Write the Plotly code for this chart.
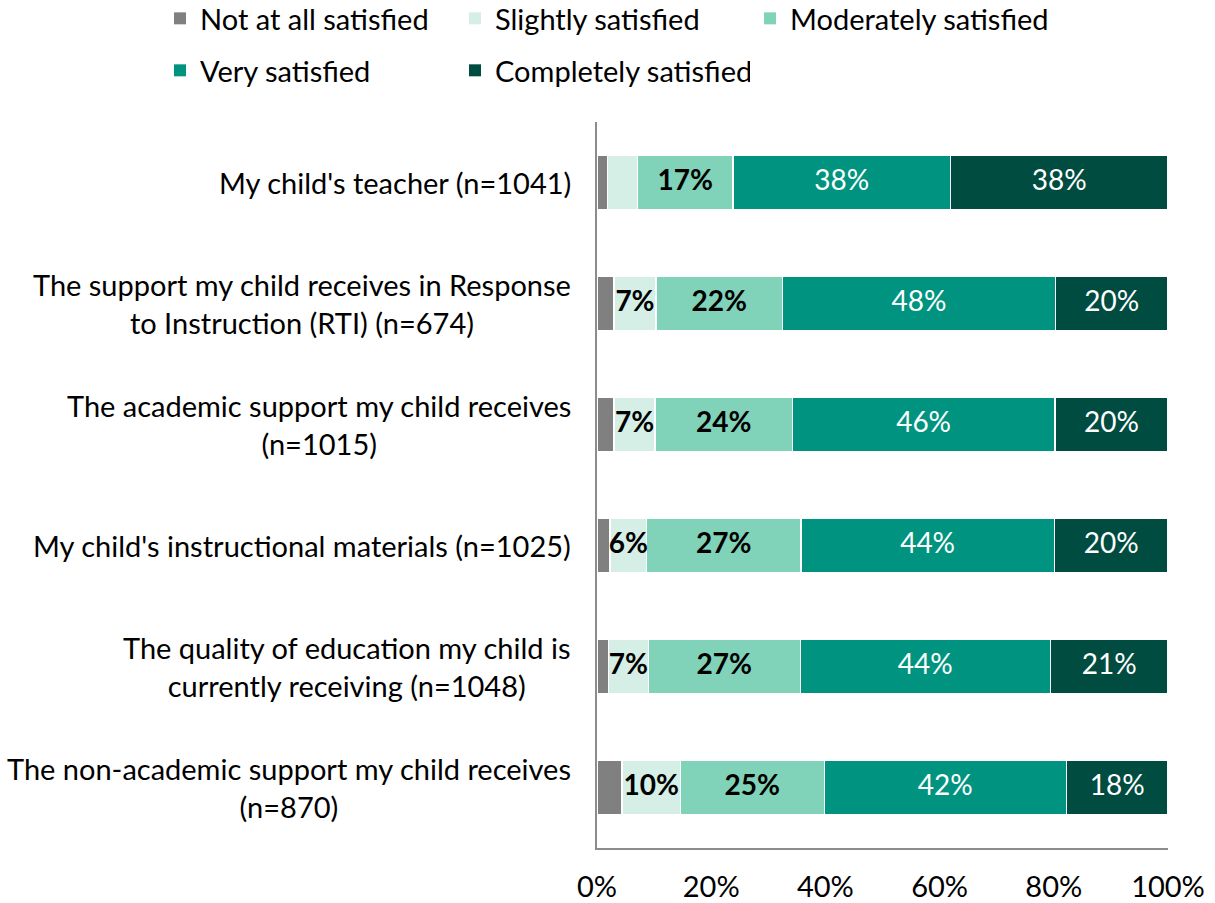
import plotly.graph_objects as go

categories = [
    "My child's teacher (n=1041)",
    "The support my child receives in Response<br>to Instruction (RTI) (n=674)",
    "The academic support my child receives<br>(n=1015)",
    "My child's instructional materials (n=1025)",
    "The quality of education my child is<br>currently receiving (n=1048)",
    "The non-academic support my child receives<br>(n=870)",
]
series_names = ["Not at all satisfied", "Slightly satisfied", "Moderately satisfied",
                "Very satisfied", "Completely satisfied"]
not_at_all = [1.8, 3.0, 3.0, 2.3, 2.0, 4.4]
slightly = [5.3, 7.3, 7.2, 6.4, 7.0, 10.2]
moderately = [16.7, 22.2, 24.0, 27.0, 26.6, 25.2]
very = [38.1, 47.8, 46.0, 44.4, 43.8, 42.4]
completely = [38.1, 19.7, 19.8, 19.9, 20.6, 17.8]
tick_vals = [0, 20, 40, 60, 80, 100]
tick_text = ["0%", "20%", "40%", "60%", "80%", "100%"]

colors = ["#808080", "#d5efe6", "#80d3b8", "#009480", "#004c40"]
text_colors = ["#000000", "#000000", "#000000", "#ffffff", "#ffffff"]
text_weights = ["bold", "bold", "bold", "normal", "normal"]
legend_ids = ["legend", "legend", "legend3", "legend2", "legend2"]

fig = go.Figure()
all_series = [not_at_all, slightly, moderately, very, completely]
for i, (name, vals) in enumerate(zip(series_names, all_series)):
    fig.add_trace(go.Bar(
        y=categories, x=vals, name=name, orientation="h",
        marker=dict(color=colors[i], line=dict(color="#ffffff", width=1.5)),
        hoverinfo="skip", showlegend=False,
    ))

# legend entries (square swatches)
for i, name in enumerate(series_names):
    fig.add_trace(go.Scatter(
        x=[None], y=[None], mode="markers", name=name,
        marker=dict(symbol="square", size=13, color=colors[i]),
        legend=legend_ids[i], showlegend=True, hoverinfo="skip",
    ))

# data labels placed at segment centres
cum = [0.0] * len(categories)
for i, vals in enumerate(all_series):
    mids = [c + v / 2 for c, v in zip(cum, vals)]
    texts = [f"{round(v)}%" if v >= 6 else "" for v in vals]
    fig.add_trace(go.Scatter(
        y=categories, x=mids, mode="text", text=texts, textposition="middle center",
        textfont=dict(family="Lato", size=28, color=text_colors[i],
                      weight=text_weights[i]),
        showlegend=False, hoverinfo="skip",
    ))
    cum = [c + v for c, v in zip(cum, vals)]

for c in categories:
    fig.add_annotation(x=-0.042, xref="paper", y=c, yref="y", text=c,
                       xanchor="right", align="center", showarrow=False,
                       font=dict(family="Lato", size=29, color="#000000"))

leg_common = dict(orientation="h", xanchor="left", yanchor="top",
                  traceorder="normal", itemsizing="constant",
                  font=dict(family="Lato", size=29, color="#000000"),
                  bgcolor="rgba(0,0,0,0)", itemclick=False, itemdoubleclick=False)

fig.update_layout(
    width=1215, height=903,
    barmode="stack", bargap=0.545,
    plot_bgcolor="#ffffff", paper_bgcolor="#ffffff",
    margin=dict(l=597, r=47, t=122, b=55, autoexpand=False),
    font=dict(family="Lato", size=29, color="#000000"),
    legend=dict(x=-0.7653, y=1.1777, entrywidth=250, **leg_common),
    legend2=dict(x=-0.7653, y=1.1061, entrywidth=250, **leg_common),
    legend3=dict(x=0.268, y=1.1777, entrywidth=0, **leg_common),
    xaxis=dict(range=[0, 100], tickvals=tick_vals, ticktext=tick_text, showgrid=False,
               zeroline=False, showline=True, linecolor="#8c8c8c", linewidth=2,
               ticks="", ticklabelstandoff=12, automargin=False,
               tickfont=dict(family="Lato", size=29, color="#000000")),
    yaxis=dict(autorange="reversed", showticklabels=False, showgrid=False,
               showline=True, linecolor="#8c8c8c", linewidth=2, ticks="",
               automargin=False),
)

fig.write_html("out.html", config={"displayModeBar": False},
               post_script="document.body.style.margin='0';")
